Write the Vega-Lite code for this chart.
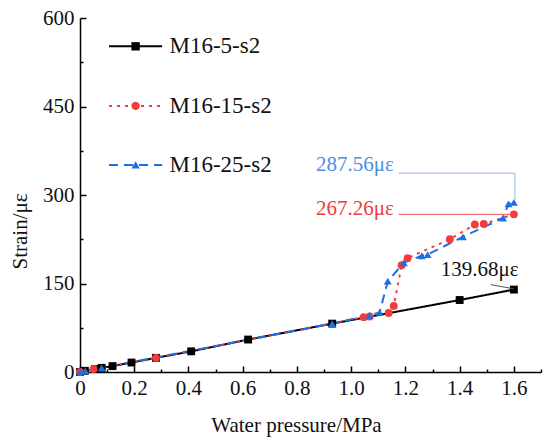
{
  "$schema": "https://vega.github.io/schema/vega-lite/v6.json",
  "width": 461,
  "height": 354,
  "autosize": "none",
  "padding": {"left": 80, "top": 18, "right": 9, "bottom": 72},
  "background": "white",
  "datasets": {
    "strain": [
      {"series": "M16-5-s2", "p": 0, "s": 0},
      {"series": "M16-5-s2", "p": 0.018, "s": 2},
      {"series": "M16-5-s2", "p": 0.055, "s": 5},
      {"series": "M16-5-s2", "p": 0.08, "s": 7},
      {"series": "M16-5-s2", "p": 0.12, "s": 10},
      {"series": "M16-5-s2", "p": 0.19, "s": 16},
      {"series": "M16-5-s2", "p": 0.28, "s": 24},
      {"series": "M16-5-s2", "p": 0.41, "s": 35},
      {"series": "M16-5-s2", "p": 0.62, "s": 55},
      {"series": "M16-5-s2", "p": 0.93, "s": 82},
      {"series": "M16-5-s2", "p": 1.4, "s": 122},
      {"series": "M16-5-s2", "p": 1.6, "s": 139.68},
      {"series": "M16-15-s2", "p": 0, "s": 0},
      {"series": "M16-15-s2", "p": 0.05, "s": 5},
      {"series": "M16-15-s2", "p": 0.28, "s": 24},
      {"series": "M16-15-s2", "p": 1.046, "s": 93},
      {"series": "M16-15-s2", "p": 1.068, "s": 94},
      {"series": "M16-15-s2", "p": 1.138, "s": 100},
      {"series": "M16-15-s2", "p": 1.157, "s": 112},
      {"series": "M16-15-s2", "p": 1.186, "s": 181},
      {"series": "M16-15-s2", "p": 1.208, "s": 193},
      {"series": "M16-15-s2", "p": 1.364, "s": 225},
      {"series": "M16-15-s2", "p": 1.456, "s": 250},
      {"series": "M16-15-s2", "p": 1.489, "s": 251},
      {"series": "M16-15-s2", "p": 1.6, "s": 267.26},
      {"series": "M16-25-s2", "p": 0, "s": 0},
      {"series": "M16-25-s2", "p": 0.02, "s": 2},
      {"series": "M16-25-s2", "p": 0.08, "s": 7},
      {"series": "M16-25-s2", "p": 0.93, "s": 82},
      {"series": "M16-25-s2", "p": 1.068, "s": 96},
      {"series": "M16-25-s2", "p": 1.105, "s": 101},
      {"series": "M16-25-s2", "p": 1.135, "s": 154},
      {"series": "M16-25-s2", "p": 1.194, "s": 185},
      {"series": "M16-25-s2", "p": 1.26, "s": 197},
      {"series": "M16-25-s2", "p": 1.282, "s": 199},
      {"series": "M16-25-s2", "p": 1.412, "s": 229},
      {"series": "M16-25-s2", "p": 1.56, "s": 261},
      {"series": "M16-25-s2", "p": 1.58, "s": 285},
      {"series": "M16-25-s2", "p": 1.6, "s": 287.56}
    ],
    "legendkey": [
      {"series": "M16-5-s2", "part": "line", "p": 0.107, "s": 552},
      {"series": "M16-5-s2", "part": "line", "p": 0.303, "s": 552},
      {"series": "M16-5-s2", "part": "mark", "p": 0.205, "s": 552},
      {"series": "M16-5-s2", "part": "name", "p": 0.33, "s": 552},
      {"series": "M16-15-s2", "part": "line", "p": 0.107, "s": 451},
      {"series": "M16-15-s2", "part": "line", "p": 0.303, "s": 451},
      {"series": "M16-15-s2", "part": "mark", "p": 0.205, "s": 451},
      {"series": "M16-15-s2", "part": "name", "p": 0.33, "s": 451},
      {"series": "M16-25-s2", "part": "line", "p": 0.107, "s": 351},
      {"series": "M16-25-s2", "part": "line", "p": 0.303, "s": 351},
      {"series": "M16-25-s2", "part": "mark", "p": 0.205, "s": 351},
      {"series": "M16-25-s2", "part": "name", "p": 0.33, "s": 351}
    ],
    "leaders": [
      {"series": "M16-25-s2", "k": 1, "p": 1.175, "s": 337},
      {"series": "M16-25-s2", "k": 2, "p": 1.604, "s": 337},
      {"series": "M16-25-s2", "k": 3, "p": 1.604, "s": 292},
      {"series": "M16-15-s2", "k": 1, "p": 1.175, "s": 267.26},
      {"series": "M16-15-s2", "k": 2, "p": 1.6, "s": 267.26},
      {"series": "M16-5-s2", "k": 1, "p": 1.515, "s": 148},
      {"series": "M16-5-s2", "k": 2, "p": 1.6, "s": 141}
    ],
    "labels": [
      {"series": "M16-25-s2", "p": 1.157, "s": 351, "text": "287.56με"},
      {"series": "M16-15-s2", "p": 1.157, "s": 276, "text": "267.26με"},
      {"series": "M16-5-s2", "p": 1.33, "s": 173, "text": "139.68με"}
    ]
  },
  "encoding": {
    "x": {
      "field": "p",
      "type": "quantitative",
      "scale": {"domain": [0, 1.7], "nice": false},
      "axis": {
        "title": "Water pressure/MPa",
        "values": [0, 0.1, 0.2, 0.3, 0.4, 0.5, 0.6, 0.7, 0.8, 0.9, 1.0, 1.1, 1.2, 1.3, 1.4, 1.5, 1.6, 1.7],
        "labelExpr": "round(datum.value * 10) % 2 == 0 && datum.value < 1.65 ? (datum.value == 0 ? '0' : format(datum.value, '.1f')) : ''",
        "tickSize": {"condition": {"test": "round(datum.value * 10) % 2 == 0", "value": -6}, "value": -3},
        "labelPadding": 11,
        "titleX": 216,
        "titlePadding": 13
      }
    },
    "y": {
      "field": "s",
      "type": "quantitative",
      "scale": {"domain": [0, 600], "nice": false},
      "axis": {
        "title": "Strain/με",
        "values": [0, 75, 150, 225, 300, 375, 450, 525, 600],
        "labelExpr": "datum.value % 150 == 0 ? datum.label : ''",
        "tickSize": {"condition": {"test": "datum.value % 150 == 0", "value": -6}, "value": -3},
        "labelPadding": 12,
        "titleY": 213,
        "titleX": -50
      }
    }
  },
  "layer": [
    {
      "data": {"name": "strain"},
      "mark": {"type": "line", "strokeWidth": 2},
      "encoding": {
        "color": {
          "field": "series",
          "type": "nominal",
          "scale": {"domain": ["M16-5-s2", "M16-15-s2", "M16-25-s2"], "range": ["#000000", "#f03c3c", "#1f6fe0"]},
          "legend": null
        },
        "strokeDash": {
          "field": "series",
          "type": "nominal",
          "scale": {"domain": ["M16-5-s2", "M16-15-s2", "M16-25-s2"], "range": [[1, 0], [3, 5], [9, 6]]},
          "legend": null
        }
      }
    },
    {
      "data": {"name": "strain"},
      "mark": {"type": "point", "filled": true, "opacity": 1, "size": 62},
      "encoding": {
        "color": {"field": "series", "type": "nominal", "legend": null},
        "shape": {
          "field": "series",
          "type": "nominal",
          "scale": {"domain": ["M16-5-s2", "M16-15-s2", "M16-25-s2"], "range": ["square", "circle", "triangle-up"]},
          "legend": null
        }
      }
    },
    {
      "data": {"name": "legendkey"},
      "transform": [{"filter": "datum.part == 'line'"}],
      "mark": {"type": "line", "strokeWidth": 2},
      "encoding": {
        "color": {"field": "series", "type": "nominal", "legend": null},
        "strokeDash": {"field": "series", "type": "nominal", "legend": null}
      }
    },
    {
      "data": {"name": "legendkey"},
      "transform": [{"filter": "datum.part == 'mark'"}],
      "mark": {"type": "point", "filled": true, "opacity": 1, "size": 70},
      "encoding": {
        "color": {"field": "series", "type": "nominal", "legend": null},
        "shape": {"field": "series", "type": "nominal", "legend": null}
      }
    },
    {
      "data": {"name": "legendkey"},
      "transform": [{"filter": "datum.part == 'name'"}],
      "mark": {"type": "text", "font": "Liberation Serif", "fontSize": 23, "baseline": "middle", "align": "left", "color": "#111111"},
      "encoding": {
        "text": {"field": "series"}
      }
    },
    {
      "data": {"name": "leaders"},
      "mark": {"type": "line", "strokeWidth": 1},
      "encoding": {
        "detail": {"field": "series"},
        "order": {"field": "k"},
        "color": {
          "condition": [
            {"test": "datum.series == 'M16-25-s2'", "value": "#8fb6ec"},
            {"test": "datum.series == 'M16-15-s2'", "value": "#f05050"}
          ],
          "value": "#555555"
        }
      }
    },
    {
      "data": {"name": "labels"},
      "transform": [{"filter": "datum.series != 'M16-5-s2'"}],
      "mark": {"type": "text", "font": "Liberation Serif", "fontSize": 21, "baseline": "middle", "align": "right"},
      "encoding": {
        "text": {"field": "text"},
        "color": {
          "condition": {"test": "datum.series == 'M16-25-s2'", "value": "#4a8ee8"},
          "value": "#f03a3a"
        }
      }
    },
    {
      "data": {"name": "labels"},
      "transform": [{"filter": "datum.series == 'M16-5-s2'"}],
      "mark": {"type": "text", "font": "Liberation Serif", "fontSize": 21, "baseline": "middle", "align": "left", "color": "#111111"},
      "encoding": {
        "text": {"field": "text"}
      }
    }
  ],
  "config": {
    "view": {"stroke": null},
    "axis": {
      "grid": false,
      "domainColor": "#000000",
      "domainWidth": 1.5,
      "tickColor": "#000000",
      "tickWidth": 1.5,
      "labelFont": "Liberation Serif",
      "labelFontSize": 21,
      "labelColor": "#111111",
      "labelFlush": false,
      "labelOverlap": false,
      "titleFont": "Liberation Serif",
      "titleFontSize": 21,
      "titleFontWeight": "normal",
      "titleColor": "#111111"
    }
  }
}
